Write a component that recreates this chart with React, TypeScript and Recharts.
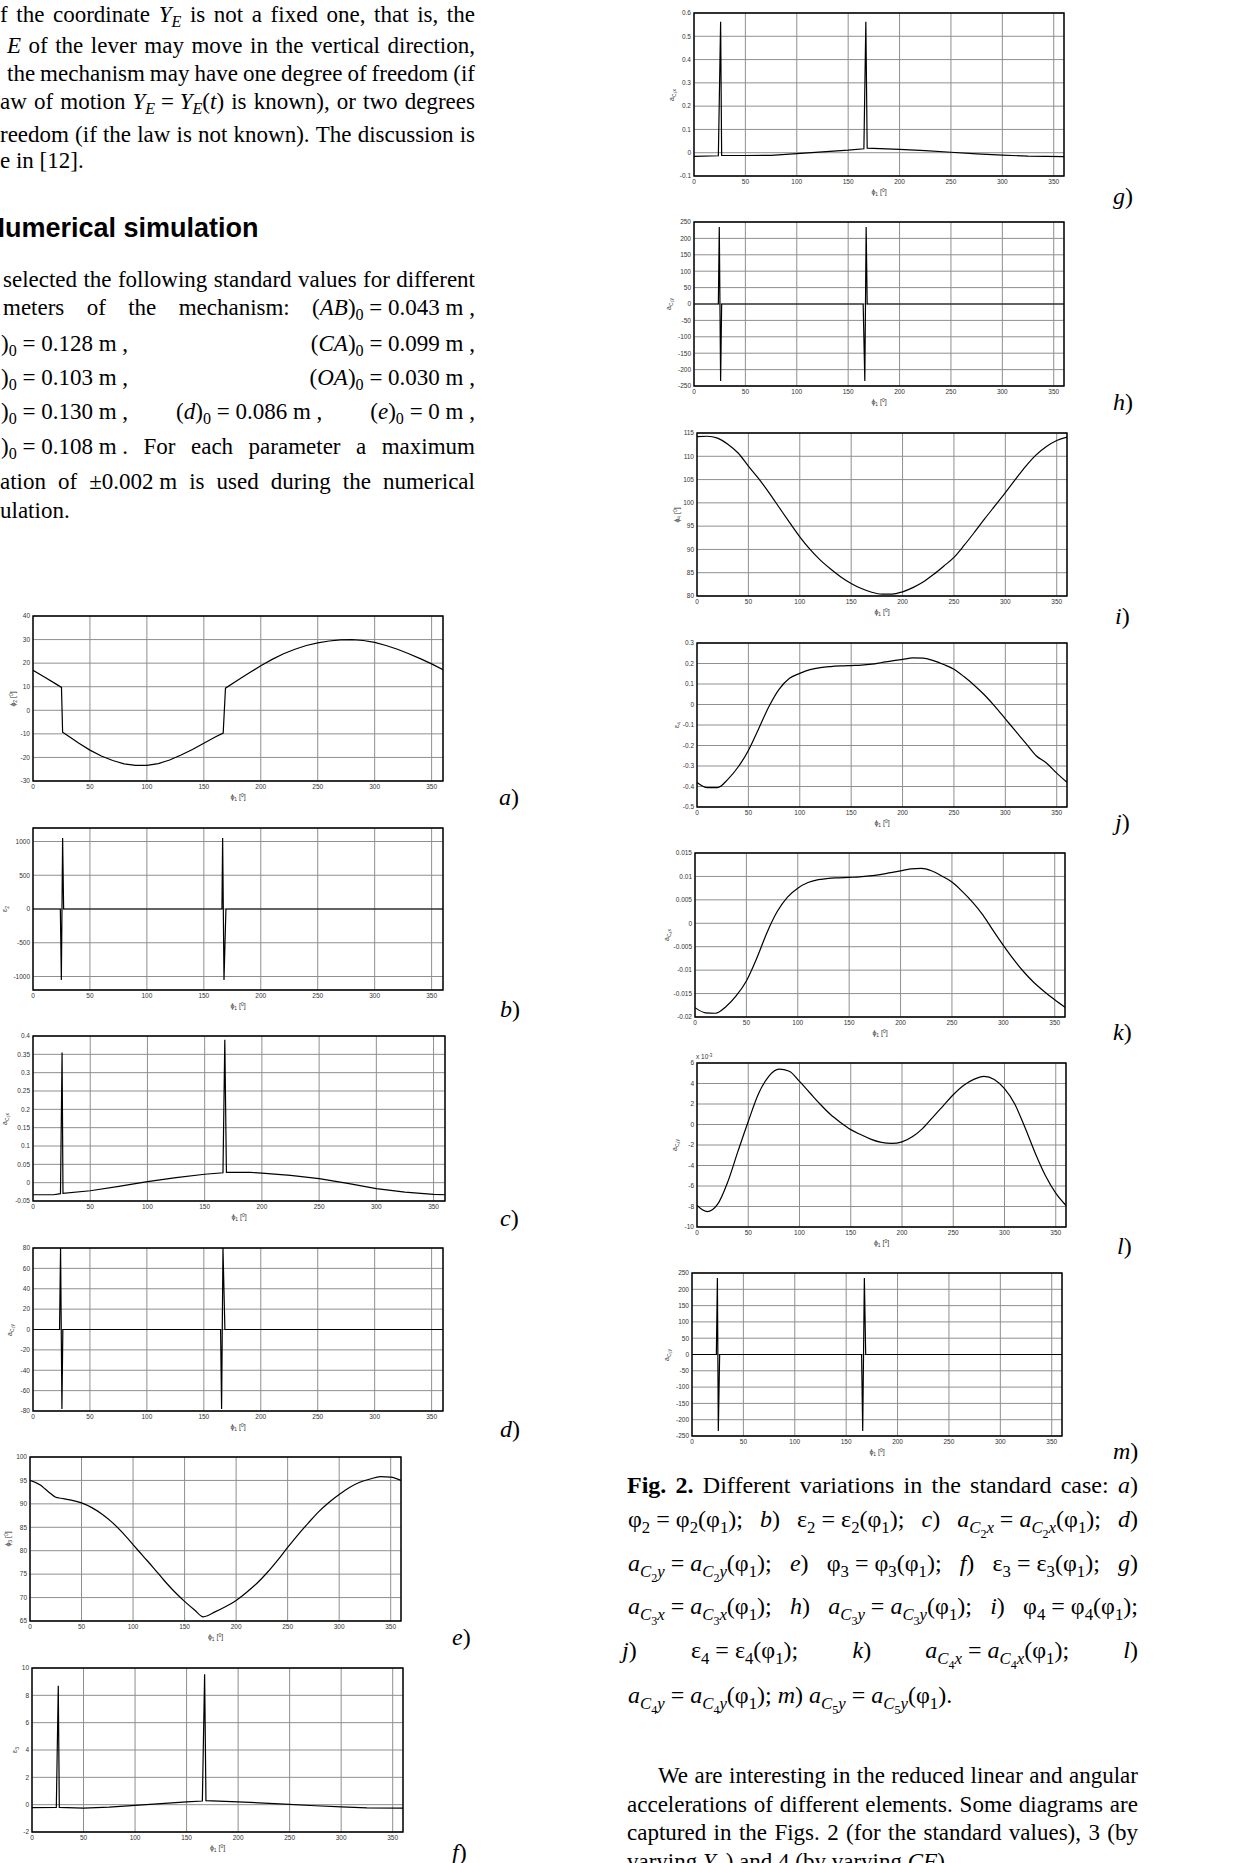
import React from "react";
import {
  LineChart,
  Line,
  XAxis,
  YAxis,
  CartesianGrid,
  ReferenceArea,
} from "recharts";

// ---- data ----

const X_TICKS = [0, 50, 100, 150, 200, 250, 300, 350];
const ANGLES = [
  0, 10, 20, 30, 40, 50, 60, 70, 80, 90, 100, 110, 120, 130, 140, 150, 160,
  170, 180, 190, 200, 210, 220, 230, 240, 250, 260, 270, 280, 290, 300, 310,
  320, 330, 340, 350, 360,
];

// a) phi2
const phi2X = [0, 10, 20, 25, 26, 30, 40, 50, 60, 70, 80, 90, 100, 110, 120, 130, 140, 150, 160, 167, 169, 180, 190, 200, 210, 220, 230, 240, 250, 260, 270, 280, 290, 300, 310, 320, 330, 340, 350, 360];
const phi2Y = [17, 14.1, 11.2, 9.7, -9.3, -10.6, -13.9, -16.9, -19.4, -21.3, -22.7, -23.4, -23.4, -22.6, -21.1, -19.0, -16.6, -14.0, -11.3, -9.7, 9.4, 12.8, 15.9, 18.9, 21.6, 24.0, 25.9, 27.5, 28.6, 29.4, 29.9, 30.0, 29.6, 28.8, 27.5, 25.9, 24.0, 21.9, 19.7, 17.2];
const phi2Ticks = [-30, -20, -10, 0, 10, 20, 30, 40];

// b) eps2
const eps2X = [0, 24, 24.9, 26, 26.9, 165.9, 166.5, 167.7, 169.4, 360];
const eps2Y = [0, 0, -1050, 1050, 0, 0, 1050, -1050, 0, 0];
const eps2Ticks = [-1000, -500, 0, 500, 1000];

// c) aC2x
const aC2xX = [0, 18, 24, 25.4, 26.2, 50, 75, 100, 125, 150, 166, 167.6, 169, 190, 200, 225, 250, 275, 300, 325, 350, 360];
const aC2xY = [-0.033, -0.033, -0.03, 0.355, -0.029, -0.022, -0.01, 0.003, 0.014, 0.023, 0.027, 0.39, 0.028, 0.028, 0.026, 0.02, 0.011, -0.002, -0.016, -0.026, -0.032, -0.033];
const aC2xTicks = [-0.05, 0, 0.05, 0.1, 0.15, 0.2, 0.25, 0.3, 0.35, 0.4];

// d) aC2y
const aC2yX = [0, 23.3, 24.2, 25.4, 26.2, 164.7, 165.6, 166.8, 168.5, 360];
const aC2yY = [0, 0, 80, -78, 0, 0, -78, 80, 0, 0];
const aC2yTicks = [-80, -60, -40, -20, 0, 20, 40, 60, 80];

// e) phi3
const phi3X = [0, 10, 15, 20, 25, 30, 40, 50, 60, 70, 80, 90, 100, 110, 120, 130, 140, 150, 160, 168, 180, 190, 200, 210, 220, 230, 240, 250, 260, 270, 280, 290, 300, 310, 320, 330, 340, 350, 360];
const phi3Y = [95, 94, 93.1, 92.2, 91.4, 91.2, 90.8, 90.2, 89.2, 87.8, 86, 83.8, 81.3, 78.8, 76.3, 73.7, 71.3, 69.2, 67.3, 65.9, 67.0, 68.1, 69.4, 71.1, 73.0, 75.3, 77.9, 80.7, 83.4, 85.9, 88.3, 90.3, 92.0, 93.5, 94.6, 95.3, 95.8, 95.7, 95.0];
const phi3Ticks = [65, 70, 75, 80, 85, 90, 95, 100];

// f) eps3
const eps3X = [0, 23.6, 25.5, 26.5, 50, 75, 100, 125, 150, 165.3, 167.5, 168.8, 200, 225, 250, 275, 300, 325, 360];
const eps3Y = [-0.22, -0.2, 8.7, -0.2, -0.25, -0.18, -0.05, 0.08, 0.2, 0.27, 9.55, 0.3, 0.2, 0.12, 0.02, -0.08, -0.16, -0.24, -0.25];
const eps3Ticks = [-2, 0, 2, 4, 6, 8, 10];

// g) aC3x
const aC3xX = [0, 23.7, 25.9, 26.9, 50, 75, 100, 125, 150, 165.3, 167.2, 168.5, 200, 225, 250, 275, 300, 325, 360];
const aC3xY = [-0.016, -0.013, 0.562, -0.012, -0.012, -0.011, -0.004, 0.004, 0.011, 0.017, 0.562, 0.02, 0.014, 0.009, 0.002, -0.005, -0.01, -0.015, -0.017];
const aC3xTicks = [-0.1, 0, 0.1, 0.2, 0.3, 0.4, 0.5, 0.6];

// h) aC3y
const aC3yX = [0, 23.7, 24.6, 25.9, 26.9, 164.6, 166.2, 167.5, 168.5, 360];
const aC3yY = [0, 0, 235, -235, 0, 0, -235, 235, 0, 0];
const acc250Ticks = [-250, -200, -150, -100, -50, 0, 50, 100, 150, 200, 250];

// i) phi4
const phi4Y = [114.2, 114.3, 113.9, 112.6, 110.7, 107.9, 105.2, 102.2, 99.0, 95.8, 92.7, 90.0, 87.7, 85.8, 84.1, 82.7, 81.6, 80.8, 80.4, 80.4, 80.9, 81.8, 83.0, 84.6, 86.4, 88.3, 90.9, 93.7, 96.6, 99.4, 102.2, 105.1, 107.9, 110.3, 112.1, 113.4, 114.1];
const phi4Ticks = [80, 85, 90, 95, 100, 105, 110, 115];

// j) eps4
const eps4Y = [-0.38, -0.405, -0.405, -0.365, -0.305, -0.224, -0.118, -0.01, 0.075, 0.128, 0.152, 0.17, 0.18, 0.185, 0.188, 0.19, 0.192, 0.197, 0.205, 0.213, 0.22, 0.227, 0.226, 0.214, 0.195, 0.172, 0.135, 0.093, 0.045, -0.01, -0.07, -0.13, -0.19, -0.25, -0.285, -0.335, -0.38];
const eps4Ticks = [-0.5, -0.4, -0.3, -0.2, -0.1, 0, 0.1, 0.2, 0.3];

// k) aC4x
const aC4xY = [-0.018, -0.0191, -0.0192, -0.0178, -0.0155, -0.0123, -0.0075, -0.002, 0.0025, 0.0056, 0.0075, 0.0087, 0.0093, 0.0096, 0.0097, 0.0098, 0.0099, 0.0101, 0.0104, 0.0108, 0.0112, 0.0116, 0.0117, 0.0112, 0.0101, 0.0088, 0.0068, 0.0045, 0.0018, -0.0015, -0.0047, -0.0077, -0.0104, -0.0127, -0.0146, -0.0163, -0.0179];
const aC4xTicks = [-0.02, -0.015, -0.01, -0.005, 0, 0.005, 0.01, 0.015];

// l) aC4y (x 10^-3)
const aC4yY = [-7.9, -8.5, -7.8, -5.6, -2.6, 0.3, 3.0, 4.7, 5.4, 5.2, 4.2, 3.1, 2.0, 1.0, 0.2, -0.5, -1.0, -1.45, -1.75, -1.85, -1.7, -1.2, -0.4, 0.7, 1.8, 2.9, 3.8, 4.4, 4.7, 4.4, 3.5, 2.0, -0.3, -2.8, -5.0, -6.7, -7.9];
const aC4yTicks = [-10, -8, -6, -4, -2, 0, 2, 4, 6];

// m) aC5y
const aC5yX = [0, 23.7, 24.7, 25.6, 26.9, 165, 166.1, 167.7, 169, 360];
const aC5yY = [0, 0, 235, -235, 0, 0, -235, 235, 0, 0];

// ---- text helpers ----

const SERIF = '"Liberation Serif", "Times New Roman", serif';
const SANS = '"Liberation Sans", Arial, sans-serif';

const STY: Record<string, React.CSSProperties> = {
  i: { fontStyle: "italic" },
  b: { fontWeight: "bold" },
  s: { fontSize: "0.7em", position: "relative", top: "0.35em" },
  si: { fontSize: "0.7em", position: "relative", top: "0.35em", fontStyle: "italic" },
  ss: { fontSize: "0.5em", position: "relative", top: "0.9em" },
  p: { fontSize: "0.7em", position: "relative", top: "-0.5em" },
};

function rich(src: string) {
  const out: React.ReactNode[] = [];
  const re = /\{(\w+):([^}]*)\}/g;
  let last = 0;
  let k = 0;
  let m: RegExpExecArray | null;
  while ((m = re.exec(src))) {
    if (m.index > last) out.push(<span key={k++}>{src.slice(last, m.index)}</span>);
    out.push(
      <span key={k++} style={STY[m[1]]}>
        {m[2]}
      </span>
    );
    last = re.lastIndex;
  }
  if (last < src.length) out.push(<span key={k++}>{src.slice(last)}</span>);
  return out;
}

function TextLine({
  x,
  base,
  w,
  fs,
  src,
  justify = true,
  family = SERIF,
  weight = "normal",
}: {
  x: number;
  base: number;
  w: number;
  fs: number;
  src: string;
  justify?: boolean;
  family?: string;
  weight?: string;
}) {
  const items = src.includes("|") ? src.split("|") : src.split(" ");
  return (
    <div
      style={{
        position: "absolute",
        left: x,
        top: base - fs * 0.8375,
        width: w,
        height: fs,
        lineHeight: fs + "px",
        fontSize: fs,
        fontFamily: family,
        fontWeight: weight as any,
        whiteSpace: "pre",
        display: "flex",
        justifyContent: justify ? "space-between" : "flex-start",
        gap: justify ? 0 : fs * 0.25,
        color: "#000",
      }}
    >
      {items.map((it, i) => (
        <span key={i}>{rich(it)}</span>
      ))}
    </div>
  );
}

function SmallText({
  cx,
  cy,
  src,
  rotate = false,
}: {
  cx: number;
  cy: number;
  src: string;
  rotate?: boolean;
}) {
  return (
    <div
      style={{
        position: "absolute",
        left: cx,
        top: cy,
        transform: `translate(-50%, -50%)${rotate ? " rotate(-90deg)" : ""}`,
        fontFamily: SANS,
        fontSize: 7,
        lineHeight: "8px",
        color: "#333",
        whiteSpace: "nowrap",
      }}
    >
      {rich(src)}
    </div>
  );
}

// ---- one MATLAB-style plot ----

const PADL = 34;
const PADR = 4;
const PADT = 4;
const PADB = 14;
const TICK = { fontSize: 6.5, fill: "#333", fontFamily: SANS };

type PlotProps = {
  box: [number, number, number, number];
  xs: number[];
  ys: number[];
  domain: [number, number];
  ticks: number[];
  yLabel: string;
  labelDx: number;
  curve?: "linear" | "monotone";
};

function Plot({ box, xs, ys, domain, ticks, yLabel, labelDx, curve = "linear" }: PlotProps) {
  const [bx, by, bw, bh] = box;
  const data = xs.map((x, i) => ({ x, y: ys[i] }));
  return (
    <>
      <div style={{ position: "absolute", left: bx - PADL, top: by - PADT }}>
        <LineChart
          width={bw + PADL + PADR}
          height={bh + PADT + PADB}
          data={data}
          margin={{ top: PADT, right: PADR, left: 0, bottom: 0 }}
        >
          <CartesianGrid stroke="#8f8f8f" strokeWidth={1} />
          <XAxis
            dataKey="x"
            type="number"
            domain={[0, 360]}
            ticks={X_TICKS}
            interval={0}
            allowDataOverflow
            height={PADB}
            axisLine={false}
            tickLine={false}
            tickSize={0}
            tickMargin={3}
            tick={TICK}
          />
          <YAxis
            type="number"
            domain={domain}
            ticks={ticks}
            interval={0}
            allowDataOverflow
            width={PADL}
            axisLine={false}
            tickLine={false}
            tickSize={0}
            tickMargin={3}
            tick={TICK}
          />
          <ReferenceArea
            x1={0}
            x2={360}
            y1={domain[0]}
            y2={domain[1]}
            fill="none"
            stroke="#000"
            strokeWidth={1.4}
          />
          <Line
            dataKey="y"
            type={curve}
            stroke="#000"
            strokeWidth={1.2}
            dot={false}
            isAnimationActive={false}
          />
        </LineChart>
      </div>
      <SmallText cx={bx + labelDx} cy={by + bh / 2} src={yLabel} rotate />
      <SmallText cx={bx + bw / 2} cy={by + bh + 16} src={"ϕ{s:1} [{p:0}]"} />
    </>
  );
}

function Tag({ x, base, letter }: { x: number; base: number; letter: string }) {
  return <TextLine x={x} base={base} w={40} fs={24} src={`{i:${letter}})`} justify={false} />;
}

export default function App() {
  return (
    <div
      style={{
        position: "absolute",
        left: 0,
        top: 0,
        width: 1242,
        height: 1863,
        overflow: "hidden",
        background: "#fff",
      }}
    >
      {/* left column text */}
      <TextLine x={0} base={22} w={475} fs={23} src="f the coordinate {i:Y}{si:E} is not a fixed one, that is, the" />
      <TextLine x={7} base={53} w={468} fs={23} src="{i:E} of the lever may move in the vertical direction," />
      <TextLine x={7} base={81} w={468} fs={23} src="the mechanism may have one degree of freedom (if" />
      <TextLine x={0} base={109} w={475} fs={23} src="aw|of|motion|{i:Y}{si:E} = {i:Y}{si:E}({i:t})|is|known),|or|two|degrees" />
      <TextLine x={0} base={142} w={475} fs={23} src="reedom (if the law is not known). The discussion is" />
      <TextLine x={0} base={168} w={475} fs={23} src="e in [12]." justify={false} />

      <div
        style={{
          position: "absolute",
          left: -14.5,
          top: 238 - 27 * 0.85,
          fontFamily: SANS,
          fontWeight: "bold",
          fontSize: 27,
          lineHeight: "27px",
          whiteSpace: "nowrap",
        }}
      >
        Numerical simulation
      </div>

      <TextLine x={3} base={287} w={472} fs={23} src="selected the following standard values for different" />
      <TextLine x={3} base={315} w={472} fs={23} src="meters|of|the|mechanism:|({i:AB}){s:0} = 0.043 m ," />
      <TextLine x={1} base={351} w={474} fs={23} src="){s:0} = 0.128 m ,|({i:CA}){s:0} = 0.099 m ," />
      <TextLine x={1} base={385} w={474} fs={23} src="){s:0} = 0.103 m ,|({i:OA}){s:0} = 0.030 m ," />
      <TextLine x={1} base={419} w={474} fs={23} src="){s:0} = 0.130 m ,|({i:d}){s:0} = 0.086 m ,|({i:e}){s:0} = 0 m ," />
      <TextLine x={1} base={454} w={474} fs={23} src="){s:0} = 0.108 m .|For|each|parameter|a|maximum" />
      <TextLine x={0} base={489} w={475} fs={23} src="ation|of|±0.002 m|is|used|during|the|numerical" />
      <TextLine x={0} base={518} w={475} fs={23} src="ulation." justify={false} />

      {/* left column plots */}
      <Plot box={[33, 616, 410, 165]} xs={phi2X} ys={phi2Y} domain={[-30, 40]} ticks={phi2Ticks} yLabel="ϕ{s:2} [{p:0}]" labelDx={-20} />
      <Tag x={499} base={805} letter="a" />
      <Plot box={[33, 828, 410, 162]} xs={eps2X} ys={eps2Y} domain={[-1200, 1200]} ticks={eps2Ticks} yLabel="ε{s:2}" labelDx={-28} />
      <Tag x={500} base={1017} letter="b" />
      <Plot box={[33, 1036, 412, 165]} xs={aC2xX} ys={aC2xY} domain={[-0.05, 0.4]} ticks={aC2xTicks} yLabel="a{s:C}{ss:2}{s:x}" labelDx={-28} />
      <Tag x={500} base={1226} letter="c" />
      <Plot box={[33, 1248, 410, 163]} xs={aC2yX} ys={aC2yY} domain={[-80, 80]} ticks={aC2yTicks} yLabel="a{s:C}{ss:2}{s:y}" labelDx={-23} />
      <Tag x={500} base={1437} letter="d" />
      <Plot box={[30, 1457, 371, 164]} xs={phi3X} ys={phi3Y} domain={[65, 100]} ticks={phi3Ticks} yLabel="ϕ{s:3} [{p:0}]" labelDx={-22} curve="monotone" />
      <Tag x={452} base={1645} letter="e" />
      <Plot box={[32, 1668, 371, 164]} xs={eps3X} ys={eps3Y} domain={[-2, 10]} ticks={eps3Ticks} yLabel="ε{s:3}" labelDx={-17} />
      <Tag x={452} base={1860} letter="f" />

      {/* right column plots */}
      <Plot box={[694, 13, 370, 163]} xs={aC3xX} ys={aC3xY} domain={[-0.1, 0.6]} ticks={aC3xTicks} yLabel="a{s:C}{ss:3}{s:x}" labelDx={-22} />
      <Tag x={1113} base={204} letter="g" />
      <Plot box={[694, 222, 370, 164]} xs={aC3yX} ys={aC3yY} domain={[-250, 250]} ticks={acc250Ticks} yLabel="a{s:C}{ss:3}{s:y}" labelDx={-25} />
      <Tag x={1113} base={410} letter="h" />
      <Plot box={[697, 433, 370, 163]} xs={ANGLES} ys={phi4Y} domain={[80, 115]} ticks={phi4Ticks} yLabel="ϕ{s:4} [{p:0}]" labelDx={-20} curve="monotone" />
      <Tag x={1115} base={624} letter="i" />
      <Plot box={[697, 643, 370, 164]} xs={ANGLES} ys={eps4Y} domain={[-0.5, 0.3]} ticks={eps4Ticks} yLabel="ε{s:4}" labelDx={-20} curve="monotone" />
      <Tag x={1115} base={830} letter="j" />
      <Plot box={[695, 853, 370, 164]} xs={ANGLES} ys={aC4xY} domain={[-0.02, 0.015]} ticks={aC4xTicks} yLabel="a{s:C}{ss:4}{s:x}" labelDx={-28} curve="monotone" />
      <Tag x={1113} base={1040} letter="k" />
      <Plot box={[697, 1063, 369, 164]} xs={ANGLES} ys={aC4yY} domain={[-10, 6]} ticks={aC4yTicks} yLabel="a{s:C}{ss:4}{s:y}" labelDx={-22} curve="monotone" />
      <div style={{ position: "absolute", left: 696, top: 1053, fontFamily: SANS, fontSize: 6.5, lineHeight: "8px", color: "#333", whiteSpace: "nowrap" }}>
        {rich("x 10{p:-3}")}
      </div>
      <Tag x={1117} base={1254} letter="l" />
      <Plot box={[692, 1273, 370, 163]} xs={aC5yX} ys={aC5yY} domain={[-250, 250]} ticks={acc250Ticks} yLabel="a{s:C}{ss:5}{s:y}" labelDx={-25} />
      <Tag x={1113} base={1459} letter="m" />

      {/* caption */}
      <TextLine x={627} base={1493} w={511} fs={24} src="{b:Fig.} {b:2.} Different variations in the standard case: {i:a})" />
      <TextLine x={628} base={1527} w={510} fs={24} src="φ{s:2} = φ{s:2}(φ{s:1});|{i:b})|ε{s:2} = ε{s:2}(φ{s:1});|{i:c})|{i:a}{si:C}{ss:2}{si:x} = {i:a}{si:C}{ss:2}{si:x}(φ{s:1});|{i:d})" />
      <TextLine x={628} base={1571} w={510} fs={24} src="{i:a}{si:C}{ss:2}{si:y} = {i:a}{si:C}{ss:2}{si:y}(φ{s:1});|{i:e})|φ{s:3} = φ{s:3}(φ{s:1});|{i:f})|ε{s:3} = ε{s:3}(φ{s:1});|{i:g})" />
      <TextLine x={628} base={1614} w={510} fs={24} src="{i:a}{si:C}{ss:3}{si:x} = {i:a}{si:C}{ss:3}{si:x}(φ{s:1});|{i:h})|{i:a}{si:C}{ss:3}{si:y} = {i:a}{si:C}{ss:3}{si:y}(φ{s:1});|{i:i})|φ{s:4} = φ{s:4}(φ{s:1});" />
      <TextLine x={622} base={1658} w={516} fs={24} src="{i:j})|ε{s:4} = ε{s:4}(φ{s:1});|{i:k})|{i:a}{si:C}{ss:4}{si:x} = {i:a}{si:C}{ss:4}{si:x}(φ{s:1});|{i:l})" />
      <TextLine x={628} base={1703} w={510} fs={24} justify={false} src="{i:a}{si:C}{ss:4}{si:y} = {i:a}{si:C}{ss:4}{si:y}(φ{s:1});|{i:m})|{i:a}{si:C}{ss:5}{si:y} = {i:a}{si:C}{ss:5}{si:y}(φ{s:1})." />

      {/* following paragraph */}
      <TextLine x={658} base={1783} w={480} fs={23} src="We are interesting in the reduced linear and angular" />
      <TextLine x={627} base={1812} w={511} fs={23} src="accelerations of different elements. Some diagrams are" />
      <TextLine x={627} base={1840} w={511} fs={23} src="captured in the Figs. 2 (for the standard values), 3 (by" />
      <TextLine x={627} base={1869} w={511} fs={23} justify={false} src="varying {i:Y}{si:E}) and 4 (by varying {i:CF})." />
    </div>
  );
}
